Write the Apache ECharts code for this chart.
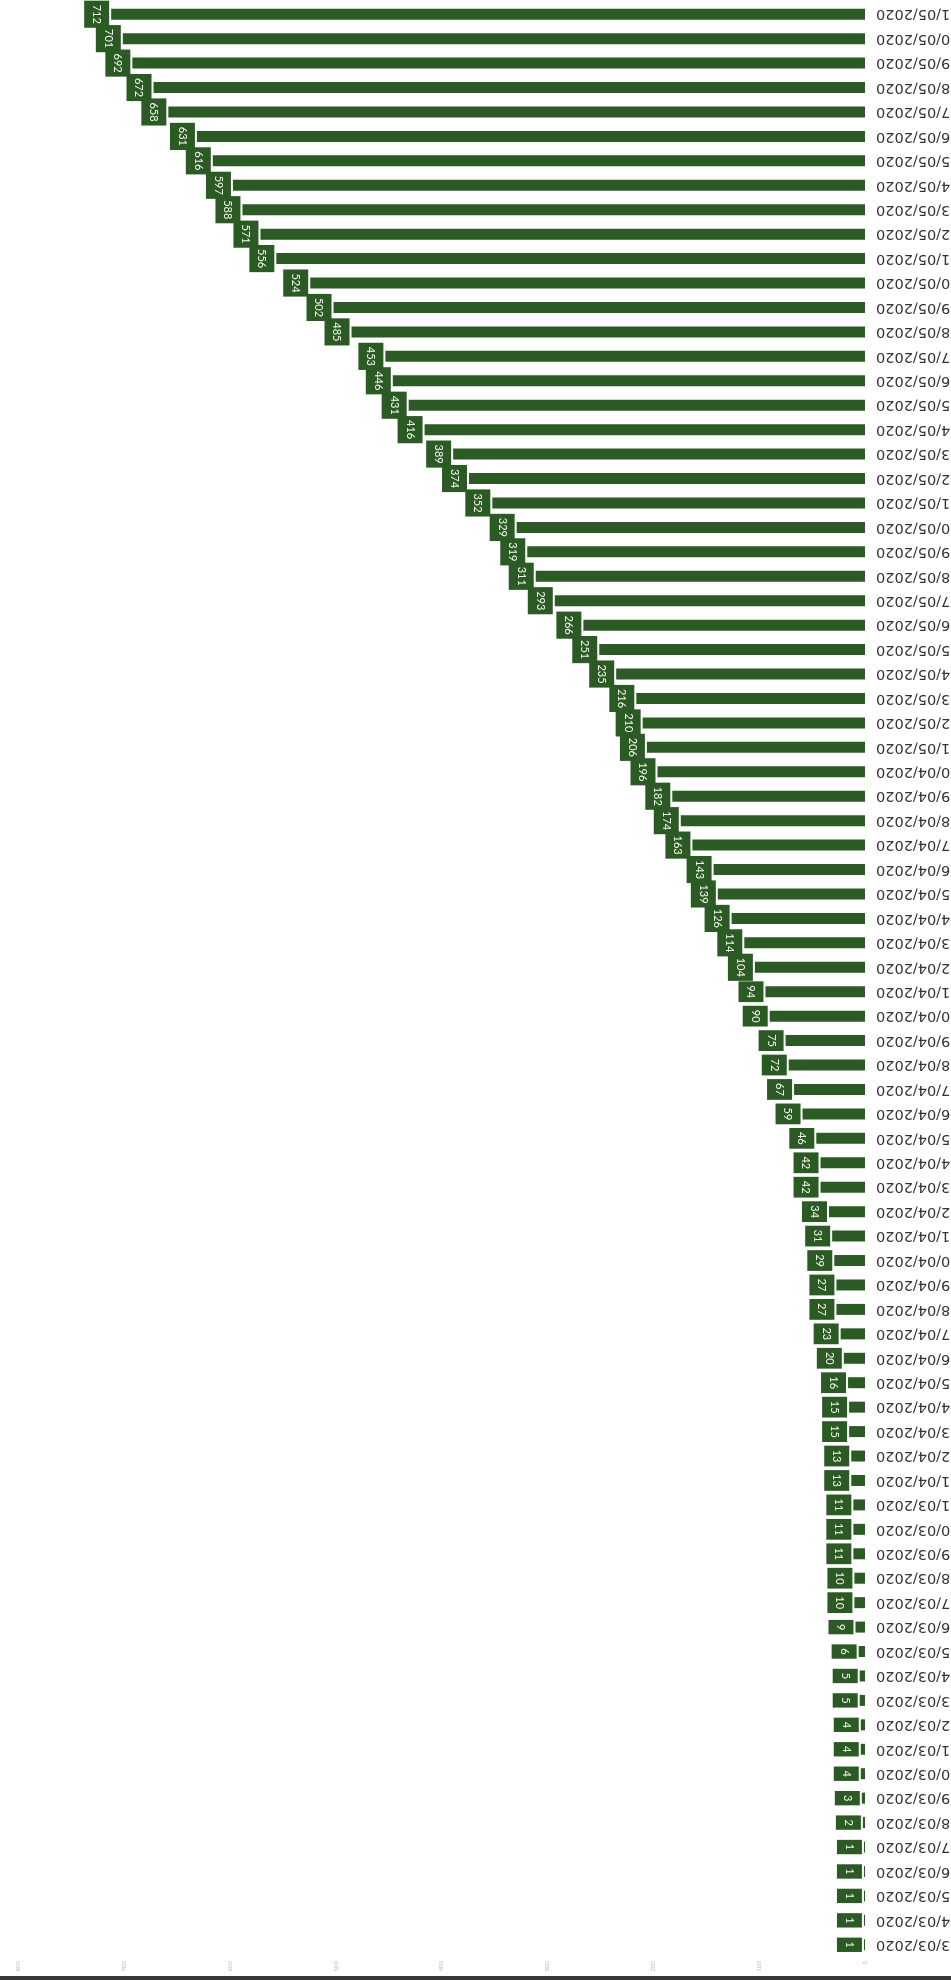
<!DOCTYPE html>
<html>
<head>
<meta charset="utf-8">
<script src="https://cdn.jsdelivr.net/npm/echarts@6/dist/echarts.min.js"></script>
<style>
  html, body { margin: 0; padding: 0; background: #fff; }
  #main { width: 951px; height: 1980px; }
</style>
</head>
<body>
<div id="main"></div>
<script>
// dates, bottom row first
var dates = [
  '13/03/2020', '14/03/2020', '15/03/2020', '16/03/2020', '17/03/2020', '18/03/2020', '19/03/2020',
  '20/03/2020', '21/03/2020', '22/03/2020', '23/03/2020', '24/03/2020', '25/03/2020', '26/03/2020',
  '27/03/2020', '28/03/2020', '29/03/2020', '30/03/2020', '31/03/2020',
  '01/04/2020', '02/04/2020', '03/04/2020', '04/04/2020', '05/04/2020', '06/04/2020', '07/04/2020',
  '08/04/2020', '09/04/2020', '10/04/2020', '11/04/2020', '12/04/2020', '13/04/2020', '14/04/2020',
  '15/04/2020', '16/04/2020', '17/04/2020', '18/04/2020', '19/04/2020', '20/04/2020', '21/04/2020',
  '22/04/2020', '23/04/2020', '24/04/2020', '25/04/2020', '26/04/2020', '27/04/2020', '28/04/2020',
  '29/04/2020', '30/04/2020',
  '01/05/2020', '02/05/2020', '03/05/2020', '04/05/2020', '05/05/2020', '06/05/2020', '07/05/2020',
  '08/05/2020', '09/05/2020', '10/05/2020', '11/05/2020', '12/05/2020', '13/05/2020', '14/05/2020',
  '15/05/2020', '16/05/2020', '17/05/2020', '18/05/2020', '19/05/2020', '20/05/2020', '21/05/2020',
  '22/05/2020', '23/05/2020', '24/05/2020', '25/05/2020', '26/05/2020', '27/05/2020', '28/05/2020',
  '29/05/2020', '30/05/2020', '31/05/2020'
];

// cumulative count per day
var counts = [
  1, 1, 1, 1, 1, 2, 3, 4, 4, 4,
  5, 5, 6, 9, 10, 10, 11, 11, 11,
  13, 13, 15, 15, 16, 20, 23, 27, 27, 29,
  31, 34, 42, 42, 46, 59, 67, 72, 75, 90,
  94, 104, 114, 126, 139, 143, 163, 174, 182, 196,
  206, 210, 216, 235, 251, 266, 293, 311, 319, 329,
  352, 374, 389, 416, 431, 446, 453, 485, 502, 524,
  556, 571, 588, 597, 616, 631, 658, 672, 692, 701, 712
];

var valueMin = 0;
var valueMax = 800;
var valueStep = 100;

var green = '#2c5a25';

var chart = echarts.init(document.getElementById('main'));
chart.setOption({
  animation: false,
  textStyle: { fontFamily: 'Lato, "Open Sans", sans-serif' },
  // labels run off the right edge in the original, so don't squeeze the grid
  grid: { left: 18, right: 86, top: 2, bottom: 23, outerBoundsMode: 'none' },
  xAxis: {
    type: 'value',
    inverse: true,
    min: valueMin,
    max: valueMax,
    interval: valueStep,
    axisLine: { show: false },
    axisTick: { show: false },
    splitLine: { show: false },
    axisLabel: { fontSize: 6, color: '#bbb', rotate: 90, margin: 4 }
  },
  yAxis: {
    type: 'category',
    position: 'right',
    data: dates,
    axisLine: { show: false },
    axisTick: { show: false },
    axisLabel: {
      rotate: 180,
      fontSize: 14.5,
      fontFamily: '"DejaVu Sans", sans-serif',
      color: '#333',
      margin: 11
    }
  },
  series: [{
    type: 'bar',
    data: counts,
    barWidth: 11,
    itemStyle: { color: green },
    label: {
      show: true,
      position: 'left',
      distance: 2,
      rotate: -90,
      align: 'center',
      verticalAlign: 'top',
      color: '#f4f8ee',
      fontSize: 11,
      backgroundColor: green,
      padding: [7, 4]
    }
  }],
  graphic: [{
    type: 'rect',
    shape: { x: 0, y: 1976, width: 951, height: 4 },
    style: { fill: '#3b3838' }
  }]
});
</script>
</body>
</html>
